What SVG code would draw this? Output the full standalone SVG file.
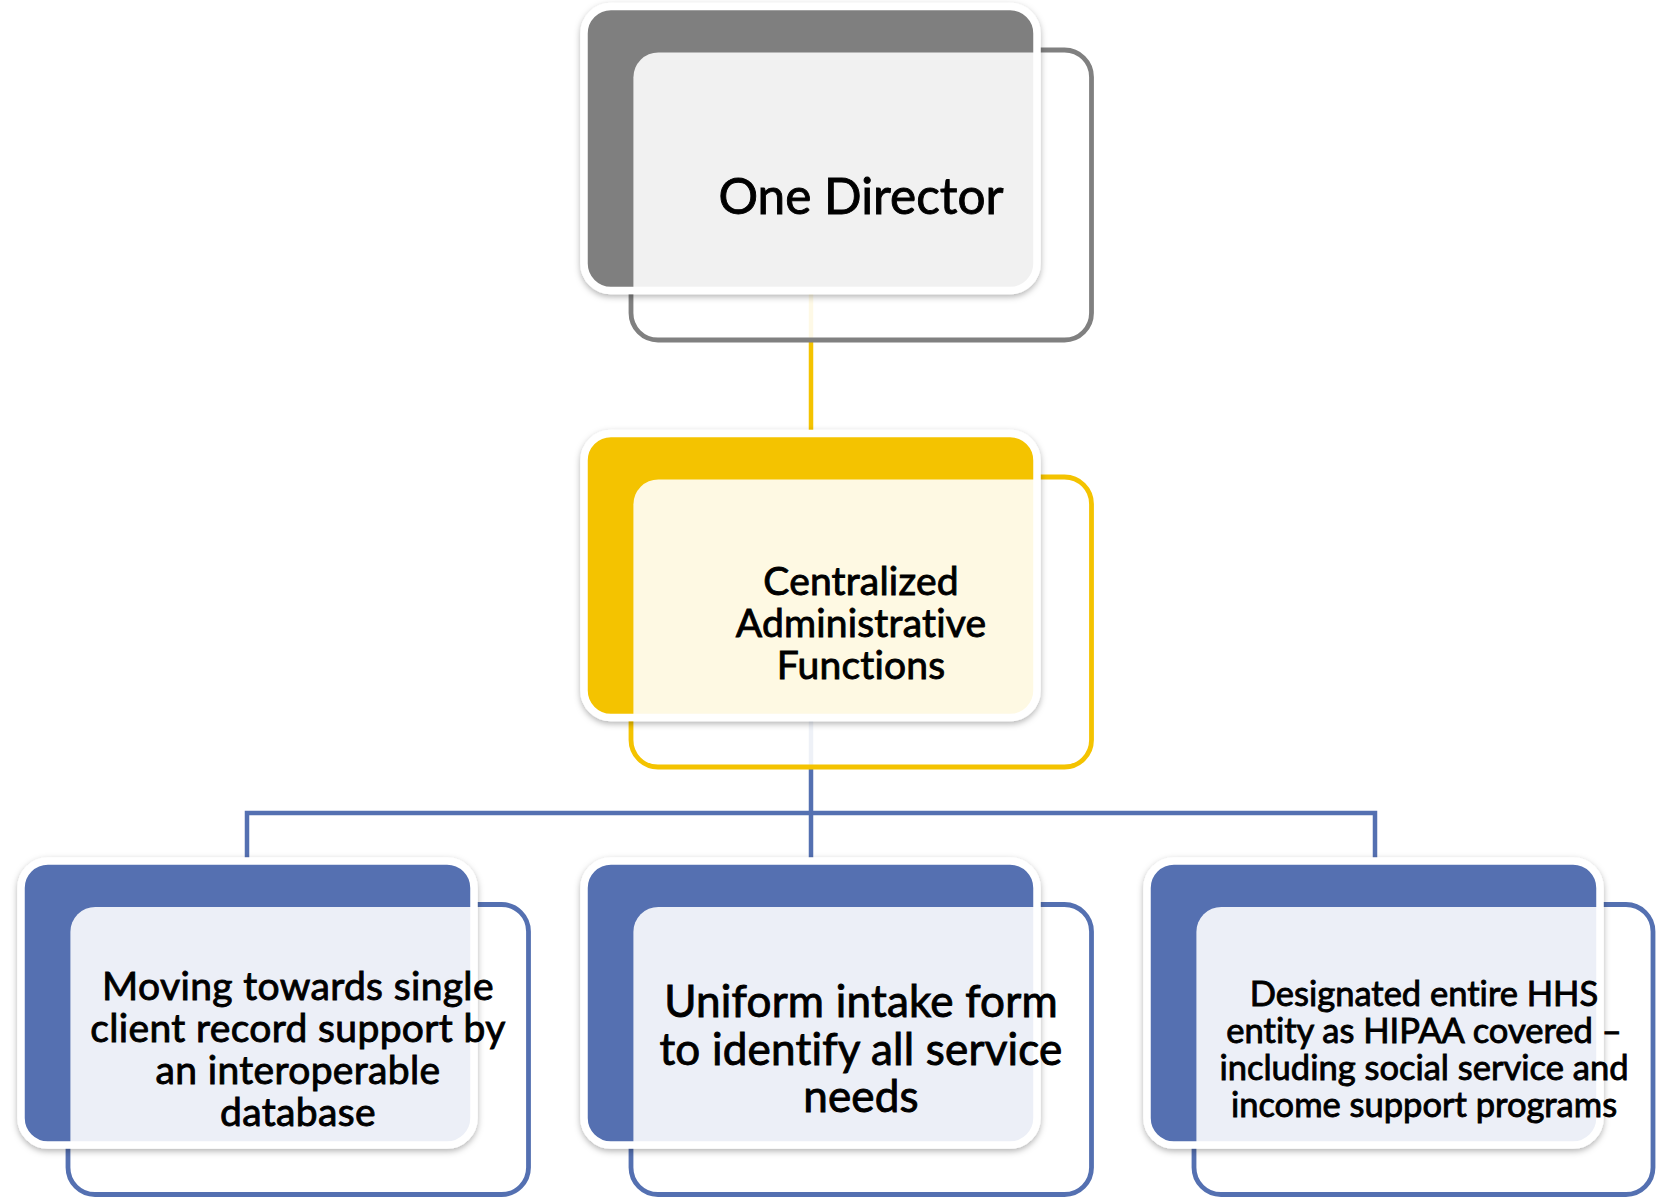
<svg xmlns="http://www.w3.org/2000/svg" width="1656" height="1198" viewBox="0 0 1656 1198">
<style>
.lbl{font-family:Lato,"Open Sans","Liberation Sans",sans-serif;fill:#000;stroke:#000;stroke-width:0.9;text-anchor:middle;font-variant-ligatures:none;font-feature-settings:"liga" 0,"clig" 0}
.halo{stroke:#fff;stroke-width:7.5}
.ovl{fill:#fff;fill-opacity:0.89}
.front{fill:#fff;fill-opacity:0.9;stroke-width:4.8}
.gray .back{fill:#7f7f7f}.gray .front{stroke:#808080}
.gold .back{fill:#f4c300}.gold .front{stroke:#f4c300}
.blue .back{fill:#5470b1}.blue .front{stroke:#5470b1}
</style>
<defs>
<filter id="sh" x="-10%" y="-10%" width="120%" height="125%">
<feDropShadow dx="0" dy="2.5" stdDeviation="3" flood-color="#000" flood-opacity="0.3"/>
</filter>
<clipPath id="c1"><rect x="584" y="6.5" width="453" height="284" rx="27"/></clipPath>
<clipPath id="c2"><rect x="584" y="433.5" width="453" height="284" rx="27"/></clipPath>
<clipPath id="c3"><rect x="21" y="861" width="453" height="284" rx="27"/></clipPath>
<clipPath id="c4"><rect x="584" y="861" width="453" height="284" rx="27"/></clipPath>
<clipPath id="c5"><rect x="1147" y="861" width="453" height="284" rx="27"/></clipPath>
</defs>
<g id="connectors" fill="none" stroke-width="4.5">
<line x1="811" y1="285" x2="811" y2="440" stroke="#f4c300"/>
<path d="M811 712 V813 M247 870 V813 H1375 V870 M811 813 V870" stroke="#5470b1"/>
</g>
<g id="node-director" class="gray">
<rect class="front" x="631" y="50" width="460.5" height="290" rx="27"/>
<rect class="back halo" x="584" y="6.5" width="453" height="284" rx="27" filter="url(#sh)"/>
<rect class="ovl" x="633.4" y="52.4" width="455.7" height="285.2" rx="25" clip-path="url(#c1)"/>
<text class="lbl" x="861" y="214" font-size="49.5">One Director</text>
</g>
<g id="node-admin" class="gold">
<rect class="front" x="631" y="477" width="460.5" height="290" rx="27"/>
<rect class="back halo" x="584" y="433.5" width="453" height="284" rx="27" filter="url(#sh)"/>
<rect class="ovl" x="633.4" y="479.4" width="455.7" height="285.2" rx="25" clip-path="url(#c2)"/>
<text class="lbl" font-size="39" letter-spacing="0.2"><tspan x="861" y="595">Centralized</tspan><tspan x="861" y="637">Administrative</tspan><tspan x="861" y="679">Functions</tspan></text>
</g>
<g id="node-record" class="blue">
<rect class="front" x="68" y="904.5" width="460.5" height="290" rx="27"/>
<rect class="back halo" x="21" y="861" width="453" height="284" rx="27" filter="url(#sh)"/>
<rect class="ovl" x="70.4" y="906.9" width="455.7" height="285.2" rx="25" clip-path="url(#c3)"/>
<text class="lbl" font-size="39" letter-spacing="0.35"><tspan x="298" y="1000">Moving towards single</tspan><tspan x="298" y="1042">client record support by</tspan><tspan x="298" y="1084">an interoperable</tspan><tspan x="298" y="1126">database</tspan></text>
</g>
<g id="node-intake" class="blue">
<rect class="front" x="631" y="904.5" width="460.5" height="290" rx="27"/>
<rect class="back halo" x="584" y="861" width="453" height="284" rx="27" filter="url(#sh)"/>
<rect class="ovl" x="633.4" y="906.9" width="455.7" height="285.2" rx="25" clip-path="url(#c4)"/>
<text class="lbl" font-size="44" letter-spacing="0.2"><tspan x="861" y="1017">Uniform intake form</tspan><tspan x="861" y="1065">to identify all service</tspan><tspan x="861" y="1112">needs</tspan></text>
</g>
<g id="node-hipaa" class="blue">
<rect class="front" x="1194" y="904.5" width="459" height="290" rx="27"/>
<rect class="back halo" x="1147" y="861" width="453" height="284" rx="27" filter="url(#sh)"/>
<rect class="ovl" x="1196.4" y="906.9" width="454.2" height="285.2" rx="25" clip-path="url(#c5)"/>
<text class="lbl" font-size="34.5"><tspan x="1424" y="1006">Designated entire HHS</tspan><tspan x="1424" y="1043">entity as HIPAA covered –</tspan><tspan x="1424" y="1080">including social service and</tspan><tspan x="1424" y="1117">income support programs</tspan></text>
</g>
</svg>
